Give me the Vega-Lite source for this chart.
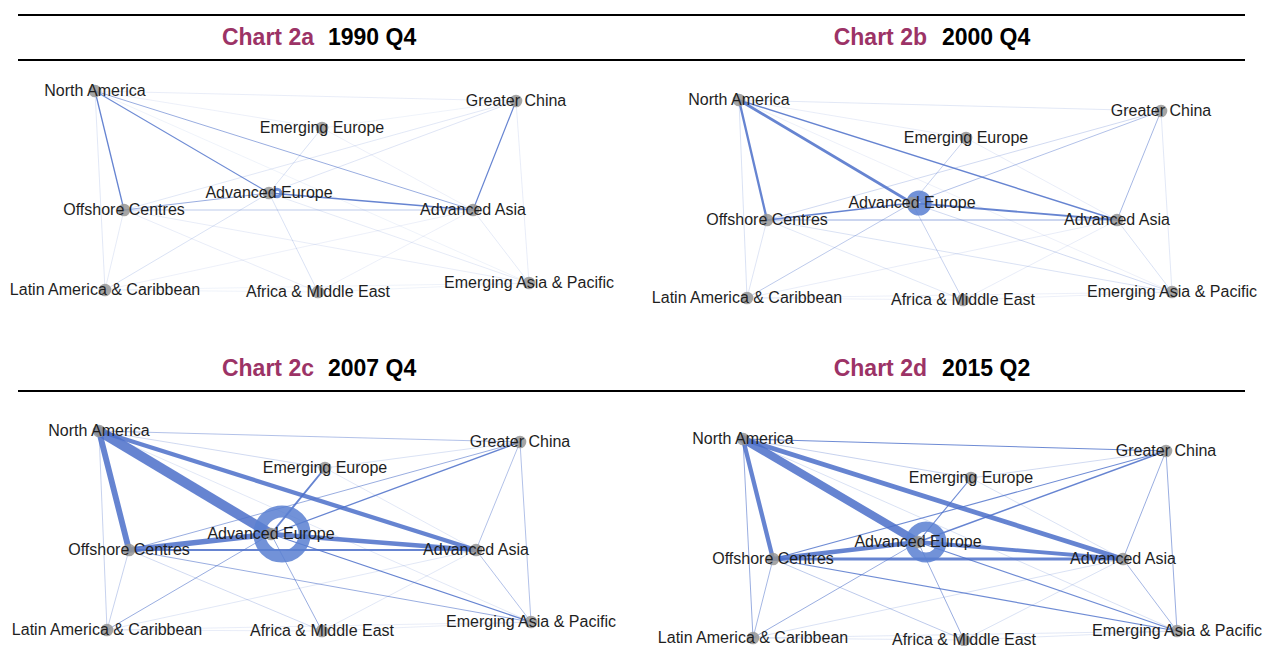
{
"$schema": "https://vega.github.io/schema/vega-lite/v6.json",
"padding": 0,
"spacing": 0,
"config": {"view": {"stroke": null}, "font": "Liberation Sans"},
"datasets": {
"nodes": [
{"name":"North America","xa":95,"ya":91,"xb":108,"yb":100,"xc":99,"yc":100,"xd":112,"yd":108},
{"name":"Greater China","xa":516,"ya":101,"xb":530,"yb":111,"xc":520,"yc":111,"xd":535,"yd":120},
{"name":"Emerging Europe","xa":322,"ya":128,"xb":335,"yb":138,"xc":325,"yc":137,"xd":340,"yd":147},
{"name":"Advanced Europe","xa":269,"ya":193,"xb":281,"yb":203,"xc":271,"yc":203,"xd":287,"yd":211},
{"name":"Offshore Centres","xa":124,"ya":210,"xb":136,"yb":220,"xc":129,"yc":219,"xd":142,"yd":228},
{"name":"Advanced Asia","xa":473,"ya":210,"xb":486,"yb":220,"xc":476,"yc":219,"xd":492,"yd":228},
{"name":"Latin America & Caribbean","xa":105,"ya":290,"xb":116,"yb":298,"xc":107,"yc":299,"xd":122,"yd":307},
{"name":"Africa & Middle East","xa":318,"ya":292,"xb":332,"yb":300,"xc":322,"yc":300,"xd":333,"yd":309},
{"name":"Emerging Asia & Pacific","xa":529,"ya":283,"xb":541,"yb":292,"xc":531,"yc":291,"xd":546,"yd":300}
],
"edges": [
{"panel":"a","source":"North America","target":"Offshore Centres","w":1.6},
{"panel":"a","source":"North America","target":"Advanced Europe","w":1.4},
{"panel":"a","source":"North America","target":"Advanced Asia","w":1.0},
{"panel":"a","source":"Greater China","target":"Advanced Asia","w":1.5},
{"panel":"a","source":"Advanced Europe","target":"Advanced Asia","w":2.0},
{"panel":"a","source":"Offshore Centres","target":"Advanced Europe","w":1.0},
{"panel":"a","source":"Offshore Centres","target":"Advanced Asia","w":0.7},
{"panel":"a","source":"Advanced Europe","target":"Emerging Europe","w":0.4},
{"panel":"a","source":"Advanced Europe","target":"Africa & Middle East","w":0.4},
{"panel":"a","source":"Advanced Europe","target":"Latin America & Caribbean","w":0.4},
{"panel":"a","source":"Advanced Europe","target":"Greater China","w":0.35},
{"panel":"a","source":"Offshore Centres","target":"Greater China","w":0.3},
{"panel":"a","source":"North America","target":"Latin America & Caribbean","w":0.3},
{"panel":"a","source":"Offshore Centres","target":"Latin America & Caribbean","w":0.25},
{"panel":"a","source":"North America","target":"Greater China","w":0.2},
{"panel":"a","source":"Advanced Asia","target":"Emerging Asia & Pacific","w":0.25},
{"panel":"a","source":"Offshore Centres","target":"Emerging Asia & Pacific","w":0.2},
{"panel":"a","source":"Advanced Europe","target":"Emerging Asia & Pacific","w":0.25},
{"panel":"a","source":"Greater China","target":"Emerging Asia & Pacific","w":0.2},
{"panel":"a","source":"Latin America & Caribbean","target":"Advanced Asia","w":0.15},
{"panel":"a","source":"Offshore Centres","target":"Africa & Middle East","w":0.2},
{"panel":"a","source":"Africa & Middle East","target":"Advanced Asia","w":0.15},
{"panel":"a","source":"North America","target":"Emerging Europe","w":0.15},
{"panel":"a","source":"Emerging Europe","target":"Greater China","w":0.1},
{"panel":"a","source":"Latin America & Caribbean","target":"Africa & Middle East","w":0.1},
{"panel":"a","source":"Africa & Middle East","target":"Emerging Asia & Pacific","w":0.1},
{"panel":"a","source":"Latin America & Caribbean","target":"Emerging Asia & Pacific","w":0.1},
{"panel":"a","source":"North America","target":"Emerging Asia & Pacific","w":0.1},
{"panel":"a","source":"Emerging Europe","target":"Advanced Asia","w":0.15},
{"panel":"a","source":"Advanced Europe","target":"Advanced Europe","w":0.3},
{"panel":"b","source":"Advanced Europe","target":"North America","w":3.0},
{"panel":"b","source":"Offshore Centres","target":"North America","w":2.6},
{"panel":"b","source":"Advanced Asia","target":"North America","w":1.8},
{"panel":"b","source":"Advanced Europe","target":"Advanced Asia","w":2.2},
{"panel":"b","source":"Offshore Centres","target":"Advanced Europe","w":1.6},
{"panel":"b","source":"Offshore Centres","target":"Advanced Asia","w":1.0},
{"panel":"b","source":"Greater China","target":"Advanced Asia","w":0.9},
{"panel":"b","source":"Advanced Europe","target":"Greater China","w":0.8},
{"panel":"b","source":"Offshore Centres","target":"Greater China","w":0.5},
{"panel":"b","source":"Advanced Europe","target":"Latin America & Caribbean","w":0.7},
{"panel":"b","source":"Advanced Europe","target":"Emerging Europe","w":0.6},
{"panel":"b","source":"Advanced Europe","target":"Africa & Middle East","w":0.6},
{"panel":"b","source":"Advanced Europe","target":"Emerging Asia & Pacific","w":0.5},
{"panel":"b","source":"Advanced Asia","target":"Emerging Asia & Pacific","w":0.4},
{"panel":"b","source":"North America","target":"Latin America & Caribbean","w":0.4},
{"panel":"b","source":"Offshore Centres","target":"Latin America & Caribbean","w":0.35},
{"panel":"b","source":"North America","target":"Greater China","w":0.3},
{"panel":"b","source":"Offshore Centres","target":"Emerging Asia & Pacific","w":0.4},
{"panel":"b","source":"Greater China","target":"Emerging Asia & Pacific","w":0.3},
{"panel":"b","source":"Offshore Centres","target":"Africa & Middle East","w":0.3},
{"panel":"b","source":"Africa & Middle East","target":"Advanced Asia","w":0.2},
{"panel":"b","source":"Latin America & Caribbean","target":"Advanced Asia","w":0.2},
{"panel":"b","source":"North America","target":"Emerging Europe","w":0.2},
{"panel":"b","source":"Emerging Europe","target":"Advanced Asia","w":0.2},
{"panel":"b","source":"Latin America & Caribbean","target":"Africa & Middle East","w":0.15},
{"panel":"b","source":"Africa & Middle East","target":"Emerging Asia & Pacific","w":0.15},
{"panel":"b","source":"Latin America & Caribbean","target":"Emerging Asia & Pacific","w":0.15},
{"panel":"b","source":"North America","target":"Emerging Asia & Pacific","w":0.15},
{"panel":"b","source":"Advanced Europe","target":"Advanced Europe","w":1.5},
{"panel":"c","source":"Advanced Europe","target":"North America","w":10},
{"panel":"c","source":"Offshore Centres","target":"North America","w":6},
{"panel":"c","source":"Advanced Asia","target":"North America","w":4.5},
{"panel":"c","source":"Offshore Centres","target":"Advanced Europe","w":5.5},
{"panel":"c","source":"Advanced Europe","target":"Advanced Asia","w":4.5},
{"panel":"c","source":"Offshore Centres","target":"Advanced Asia","w":2.2},
{"panel":"c","source":"Emerging Europe","target":"Advanced Europe","w":2.2},
{"panel":"c","source":"Advanced Europe","target":"Greater China","w":1.6},
{"panel":"c","source":"Offshore Centres","target":"Greater China","w":1.0},
{"panel":"c","source":"Advanced Europe","target":"Emerging Asia & Pacific","w":1.6},
{"panel":"c","source":"Offshore Centres","target":"Emerging Asia & Pacific","w":1.0},
{"panel":"c","source":"Advanced Asia","target":"Emerging Asia & Pacific","w":0.8},
{"panel":"c","source":"Greater China","target":"Advanced Asia","w":0.8},
{"panel":"c","source":"Greater China","target":"Emerging Asia & Pacific","w":0.8},
{"panel":"c","source":"North America","target":"Greater China","w":0.8},
{"panel":"c","source":"Advanced Europe","target":"Africa & Middle East","w":1.0},
{"panel":"c","source":"Advanced Europe","target":"Latin America & Caribbean","w":1.0},
{"panel":"c","source":"North America","target":"Latin America & Caribbean","w":0.6},
{"panel":"c","source":"Offshore Centres","target":"Latin America & Caribbean","w":0.6},
{"panel":"c","source":"Offshore Centres","target":"Africa & Middle East","w":0.5},
{"panel":"c","source":"North America","target":"Emerging Europe","w":0.5},
{"panel":"c","source":"Emerging Europe","target":"Greater China","w":0.4},
{"panel":"c","source":"Africa & Middle East","target":"Advanced Asia","w":0.3},
{"panel":"c","source":"Latin America & Caribbean","target":"Advanced Asia","w":0.3},
{"panel":"c","source":"North America","target":"Emerging Asia & Pacific","w":0.3},
{"panel":"c","source":"Latin America & Caribbean","target":"Africa & Middle East","w":0.2},
{"panel":"c","source":"Africa & Middle East","target":"Emerging Asia & Pacific","w":0.2},
{"panel":"c","source":"Latin America & Caribbean","target":"Emerging Asia & Pacific","w":0.2},
{"panel":"c","source":"Emerging Europe","target":"Advanced Asia","w":0.3},
{"panel":"c","source":"Advanced Europe","target":"Advanced Europe","w":10},
{"panel":"d","source":"Advanced Europe","target":"North America","w":8},
{"panel":"d","source":"Advanced Asia","target":"North America","w":5},
{"panel":"d","source":"Offshore Centres","target":"North America","w":4.5},
{"panel":"d","source":"Offshore Centres","target":"Advanced Europe","w":4.5},
{"panel":"d","source":"Advanced Europe","target":"Advanced Asia","w":4},
{"panel":"d","source":"Offshore Centres","target":"Advanced Asia","w":3.2},
{"panel":"d","source":"Advanced Europe","target":"Greater China","w":1.8},
{"panel":"d","source":"Offshore Centres","target":"Greater China","w":1.4},
{"panel":"d","source":"North America","target":"Greater China","w":1.4},
{"panel":"d","source":"Greater China","target":"Advanced Asia","w":1.0},
{"panel":"d","source":"Greater China","target":"Emerging Asia & Pacific","w":1.0},
{"panel":"d","source":"Offshore Centres","target":"Emerging Asia & Pacific","w":1.4},
{"panel":"d","source":"Advanced Europe","target":"Emerging Asia & Pacific","w":1.4},
{"panel":"d","source":"Advanced Asia","target":"Emerging Asia & Pacific","w":0.9},
{"panel":"d","source":"Advanced Europe","target":"Africa & Middle East","w":1.0},
{"panel":"d","source":"Advanced Europe","target":"Latin America & Caribbean","w":1.0},
{"panel":"d","source":"Emerging Europe","target":"Advanced Europe","w":1.4},
{"panel":"d","source":"Offshore Centres","target":"Latin America & Caribbean","w":0.9},
{"panel":"d","source":"North America","target":"Latin America & Caribbean","w":1.0},
{"panel":"d","source":"Offshore Centres","target":"Africa & Middle East","w":0.7},
{"panel":"d","source":"North America","target":"Emerging Europe","w":0.6},
{"panel":"d","source":"Emerging Europe","target":"Greater China","w":0.5},
{"panel":"d","source":"Africa & Middle East","target":"Advanced Asia","w":0.4},
{"panel":"d","source":"Latin America & Caribbean","target":"Advanced Asia","w":0.4},
{"panel":"d","source":"North America","target":"Emerging Asia & Pacific","w":0.4},
{"panel":"d","source":"Latin America & Caribbean","target":"Africa & Middle East","w":0.3},
{"panel":"d","source":"Africa & Middle East","target":"Emerging Asia & Pacific","w":0.3},
{"panel":"d","source":"Latin America & Caribbean","target":"Emerging Asia & Pacific","w":0.3},
{"panel":"d","source":"Emerging Europe","target":"Advanced Asia","w":0.4},
{"panel":"d","source":"Advanced Europe","target":"Advanced Europe","w":6}
]
},
"vconcat": [
{"hconcat": [
{
"width": 631, "height": 331,
"resolve": {"scale": {"strokeWidth": "independent", "size": "independent", "opacity": "independent"}},
"layer": [
{"data": {"values": [{}]}, "mark": {"type": "rule", "color": "#000000", "strokeWidth": 2},
 "encoding": {"x": {"datum": 18, "type": "quantitative", "scale": {"domain": [0, 631], "nice": false, "zero": false}, "axis": null}, "x2": {"datum": 631},
  "y": {"datum": 15, "type": "quantitative", "scale": {"domain": [0, 331], "nice": false, "zero": false, "reverse": true}, "axis": null}}},
{"data": {"values": [{}]}, "mark": {"type": "rule", "color": "#000000", "strokeWidth": 2},
 "encoding": {"x": {"datum": 18, "type": "quantitative", "scale": {"domain": [0, 631], "nice": false, "zero": false}, "axis": null}, "x2": {"datum": 631},
  "y": {"datum": 60, "type": "quantitative", "scale": {"domain": [0, 331], "nice": false, "zero": false, "reverse": true}, "axis": null}}},
{"data": {"name": "edges"},
 "transform": [
  {"filter": "datum.panel === 'a' && datum.source !== datum.target"},
  {"lookup": "source", "from": {"data": {"name": "nodes"}, "key": "name", "fields": ["xa", "ya"]}, "as": ["sx", "sy"]},
  {"lookup": "target", "from": {"data": {"name": "nodes"}, "key": "name", "fields": ["xa", "ya"]}, "as": ["tx", "ty"]}
 ],
 "mark": {"type": "rule", "color": "#4b6fc9", "strokeCap": "round"},
 "encoding": {
  "x": {"field": "sx", "type": "quantitative", "scale": {"domain": [0, 631], "nice": false, "zero": false}, "axis": null},
  "y": {"field": "sy", "type": "quantitative", "scale": {"domain": [0, 331], "nice": false, "zero": false, "reverse": true}, "axis": null},
  "x2": {"field": "tx"}, "y2": {"field": "ty"},
  "strokeWidth": {"field": "w", "type": "quantitative", "scale": {"domain": [0, 1.5, 10], "range": [0.4, 1.2, 10]}, "legend": null},
  "opacity": {"field": "w", "type": "quantitative", "scale": {"domain": [0, 1.5], "range": [0.15, 0.85], "clamp": true}, "legend": null},
  "order": {"field": "w", "type": "quantitative"}
 }},
{"data": {"name": "edges"},
 "transform": [
  {"filter": "datum.panel === 'a' && datum.source === datum.target"},
  {"lookup": "source", "from": {"data": {"name": "nodes"}, "key": "name", "fields": ["xa", "ya"]}, "as": ["sx", "sy"]}
 ],
 "mark": {"type": "point", "filled": false, "color": "#5a80d2", "opacity": 0.85, "xOffset": 8},
 "encoding": {
  "x": {"field": "sx", "type": "quantitative", "scale": {"domain": [0, 631], "nice": false, "zero": false}, "axis": null},
  "y": {"field": "sy", "type": "quantitative", "scale": {"domain": [0, 331], "nice": false, "zero": false, "reverse": true}, "axis": null},
  "size": {"field": "w", "type": "quantitative", "scale": {"domain": [0.3, 1.5, 6, 10], "range": [60, 200, 962, 2043]}, "legend": null},
  "strokeWidth": {"field": "w", "type": "quantitative", "scale": {"domain": [0.3, 1.5, 6, 10], "range": [3, 11, 10, 12]}, "legend": null}
 }},
{"data": {"name": "nodes"},
 "mark": {"type": "point", "filled": true, "color": "#959595", "opacity": 0.85, "size": 160},
 "encoding": {
  "x": {"field": "xa", "type": "quantitative", "scale": {"domain": [0, 631], "nice": false, "zero": false}, "axis": null},
  "y": {"field": "ya", "type": "quantitative", "scale": {"domain": [0, 331], "nice": false, "zero": false, "reverse": true}, "axis": null}
 }},
{"data": {"name": "nodes"},
 "mark": {"type": "text", "font": "Liberation Sans", "fontSize": 16, "color": "#1e1e1e", "align": "center", "baseline": "middle"},
 "encoding": {
  "x": {"field": "xa", "type": "quantitative", "scale": {"domain": [0, 631], "nice": false, "zero": false}, "axis": null},
  "y": {"field": "ya", "type": "quantitative", "scale": {"domain": [0, 331], "nice": false, "zero": false, "reverse": true}, "axis": null},
  "text": {"field": "name"}
 }},
{"data": {"values": [{}]}, "mark": {"type": "text", "font": "Liberation Sans", "fontSize": 23, "fontWeight": "bold", "color": "#9c3366", "align": "right", "baseline": "middle"},
 "encoding": {"x": {"datum": 314, "type": "quantitative", "scale": {"domain": [0, 631], "nice": false, "zero": false}, "axis": null},
  "y": {"datum": 38, "type": "quantitative", "scale": {"domain": [0, 331], "nice": false, "zero": false, "reverse": true}, "axis": null},
  "text": {"value": "Chart 2a"}}},
{"data": {"values": [{}]}, "mark": {"type": "text", "font": "Liberation Sans", "fontSize": 23, "fontWeight": "bold", "color": "#000000", "align": "left", "baseline": "middle"},
 "encoding": {"x": {"datum": 328, "type": "quantitative", "scale": {"domain": [0, 631], "nice": false, "zero": false}, "axis": null},
  "y": {"datum": 38, "type": "quantitative", "scale": {"domain": [0, 331], "nice": false, "zero": false, "reverse": true}, "axis": null},
  "text": {"value": "1990 Q4"}}}
]
},
{
"width": 631, "height": 331,
"resolve": {"scale": {"strokeWidth": "independent", "size": "independent", "opacity": "independent"}},
"layer": [
{"data": {"values": [{}]}, "mark": {"type": "rule", "color": "#000000", "strokeWidth": 2},
 "encoding": {"x": {"datum": 0, "type": "quantitative", "scale": {"domain": [0, 631], "nice": false, "zero": false}, "axis": null}, "x2": {"datum": 614},
  "y": {"datum": 15, "type": "quantitative", "scale": {"domain": [0, 331], "nice": false, "zero": false, "reverse": true}, "axis": null}}},
{"data": {"values": [{}]}, "mark": {"type": "rule", "color": "#000000", "strokeWidth": 2},
 "encoding": {"x": {"datum": 0, "type": "quantitative", "scale": {"domain": [0, 631], "nice": false, "zero": false}, "axis": null}, "x2": {"datum": 614},
  "y": {"datum": 60, "type": "quantitative", "scale": {"domain": [0, 331], "nice": false, "zero": false, "reverse": true}, "axis": null}}},
{"data": {"name": "edges"},
 "transform": [
  {"filter": "datum.panel === 'b' && datum.source !== datum.target"},
  {"lookup": "source", "from": {"data": {"name": "nodes"}, "key": "name", "fields": ["xb", "yb"]}, "as": ["sx", "sy"]},
  {"lookup": "target", "from": {"data": {"name": "nodes"}, "key": "name", "fields": ["xb", "yb"]}, "as": ["tx", "ty"]}
 ],
 "mark": {"type": "rule", "color": "#4b6fc9", "strokeCap": "round"},
 "encoding": {
  "x": {"field": "sx", "type": "quantitative", "scale": {"domain": [0, 631], "nice": false, "zero": false}, "axis": null},
  "y": {"field": "sy", "type": "quantitative", "scale": {"domain": [0, 331], "nice": false, "zero": false, "reverse": true}, "axis": null},
  "x2": {"field": "tx"}, "y2": {"field": "ty"},
  "strokeWidth": {"field": "w", "type": "quantitative", "scale": {"domain": [0, 1.5, 10], "range": [0.4, 1.2, 10]}, "legend": null},
  "opacity": {"field": "w", "type": "quantitative", "scale": {"domain": [0, 1.5], "range": [0.15, 0.85], "clamp": true}, "legend": null},
  "order": {"field": "w", "type": "quantitative"}
 }},
{"data": {"name": "edges"},
 "transform": [
  {"filter": "datum.panel === 'b' && datum.source === datum.target"},
  {"lookup": "source", "from": {"data": {"name": "nodes"}, "key": "name", "fields": ["xb", "yb"]}, "as": ["sx", "sy"]}
 ],
 "mark": {"type": "point", "filled": false, "color": "#5a80d2", "opacity": 0.85, "xOffset": 7},
 "encoding": {
  "x": {"field": "sx", "type": "quantitative", "scale": {"domain": [0, 631], "nice": false, "zero": false}, "axis": null},
  "y": {"field": "sy", "type": "quantitative", "scale": {"domain": [0, 331], "nice": false, "zero": false, "reverse": true}, "axis": null},
  "size": {"field": "w", "type": "quantitative", "scale": {"domain": [0.3, 1.5, 6, 10], "range": [60, 200, 962, 2043]}, "legend": null},
  "strokeWidth": {"field": "w", "type": "quantitative", "scale": {"domain": [0.3, 1.5, 6, 10], "range": [3, 11, 10, 12]}, "legend": null}
 }},
{"data": {"name": "nodes"},
 "mark": {"type": "point", "filled": true, "color": "#959595", "opacity": 0.85, "size": 160},
 "encoding": {
  "x": {"field": "xb", "type": "quantitative", "scale": {"domain": [0, 631], "nice": false, "zero": false}, "axis": null},
  "y": {"field": "yb", "type": "quantitative", "scale": {"domain": [0, 331], "nice": false, "zero": false, "reverse": true}, "axis": null}
 }},
{"data": {"name": "nodes"},
 "mark": {"type": "text", "font": "Liberation Sans", "fontSize": 16, "color": "#1e1e1e", "align": "center", "baseline": "middle"},
 "encoding": {
  "x": {"field": "xb", "type": "quantitative", "scale": {"domain": [0, 631], "nice": false, "zero": false}, "axis": null},
  "y": {"field": "yb", "type": "quantitative", "scale": {"domain": [0, 331], "nice": false, "zero": false, "reverse": true}, "axis": null},
  "text": {"field": "name"}
 }},
{"data": {"values": [{}]}, "mark": {"type": "text", "font": "Liberation Sans", "fontSize": 23, "fontWeight": "bold", "color": "#9c3366", "align": "right", "baseline": "middle"},
 "encoding": {"x": {"datum": 296, "type": "quantitative", "scale": {"domain": [0, 631], "nice": false, "zero": false}, "axis": null},
  "y": {"datum": 38, "type": "quantitative", "scale": {"domain": [0, 331], "nice": false, "zero": false, "reverse": true}, "axis": null},
  "text": {"value": "Chart 2b"}}},
{"data": {"values": [{}]}, "mark": {"type": "text", "font": "Liberation Sans", "fontSize": 23, "fontWeight": "bold", "color": "#000000", "align": "left", "baseline": "middle"},
 "encoding": {"x": {"datum": 311, "type": "quantitative", "scale": {"domain": [0, 631], "nice": false, "zero": false}, "axis": null},
  "y": {"datum": 38, "type": "quantitative", "scale": {"domain": [0, 331], "nice": false, "zero": false, "reverse": true}, "axis": null},
  "text": {"value": "2000 Q4"}}}
]
}
], "spacing": 0, "bounds": "flush"},
{"hconcat": [
{
"width": 631, "height": 315,
"resolve": {"scale": {"strokeWidth": "independent", "size": "independent", "opacity": "independent"}},
"layer": [
{"data": {"values": [{}]}, "mark": {"type": "rule", "color": "#000000", "strokeWidth": 2},
 "encoding": {"x": {"datum": 18, "type": "quantitative", "scale": {"domain": [0, 631], "nice": false, "zero": false}, "axis": null}, "x2": {"datum": 631},
  "y": {"datum": 60, "type": "quantitative", "scale": {"domain": [0, 315], "nice": false, "zero": false, "reverse": true}, "axis": null}}},
{"data": {"name": "edges"},
 "transform": [
  {"filter": "datum.panel === 'c' && datum.source !== datum.target"},
  {"lookup": "source", "from": {"data": {"name": "nodes"}, "key": "name", "fields": ["xc", "yc"]}, "as": ["sx", "sy"]},
  {"lookup": "target", "from": {"data": {"name": "nodes"}, "key": "name", "fields": ["xc", "yc"]}, "as": ["tx", "ty"]}
 ],
 "mark": {"type": "rule", "color": "#4b6fc9", "strokeCap": "round"},
 "encoding": {
  "x": {"field": "sx", "type": "quantitative", "scale": {"domain": [0, 631], "nice": false, "zero": false}, "axis": null},
  "y": {"field": "sy", "type": "quantitative", "scale": {"domain": [0, 315], "nice": false, "zero": false, "reverse": true}, "axis": null},
  "x2": {"field": "tx"}, "y2": {"field": "ty"},
  "strokeWidth": {"field": "w", "type": "quantitative", "scale": {"domain": [0, 1.5, 10], "range": [0.4, 1.2, 10]}, "legend": null},
  "opacity": {"field": "w", "type": "quantitative", "scale": {"domain": [0, 1.5], "range": [0.15, 0.85], "clamp": true}, "legend": null},
  "order": {"field": "w", "type": "quantitative"}
 }},
{"data": {"name": "edges"},
 "transform": [
  {"filter": "datum.panel === 'c' && datum.source === datum.target"},
  {"lookup": "source", "from": {"data": {"name": "nodes"}, "key": "name", "fields": ["xc", "yc"]}, "as": ["sx", "sy"]}
 ],
 "mark": {"type": "point", "filled": false, "color": "#5a80d2", "opacity": 0.85, "xOffset": 11},
 "encoding": {
  "x": {"field": "sx", "type": "quantitative", "scale": {"domain": [0, 631], "nice": false, "zero": false}, "axis": null},
  "y": {"field": "sy", "type": "quantitative", "scale": {"domain": [0, 315], "nice": false, "zero": false, "reverse": true}, "axis": null},
  "size": {"field": "w", "type": "quantitative", "scale": {"domain": [0.3, 1.5, 6, 10], "range": [60, 200, 962, 2043]}, "legend": null},
  "strokeWidth": {"field": "w", "type": "quantitative", "scale": {"domain": [0.3, 1.5, 6, 10], "range": [3, 11, 10, 12]}, "legend": null}
 }},
{"data": {"name": "nodes"},
 "mark": {"type": "point", "filled": true, "color": "#959595", "opacity": 0.85, "size": 160},
 "encoding": {
  "x": {"field": "xc", "type": "quantitative", "scale": {"domain": [0, 631], "nice": false, "zero": false}, "axis": null},
  "y": {"field": "yc", "type": "quantitative", "scale": {"domain": [0, 315], "nice": false, "zero": false, "reverse": true}, "axis": null}
 }},
{"data": {"name": "nodes"},
 "mark": {"type": "text", "font": "Liberation Sans", "fontSize": 16, "color": "#1e1e1e", "align": "center", "baseline": "middle"},
 "encoding": {
  "x": {"field": "xc", "type": "quantitative", "scale": {"domain": [0, 631], "nice": false, "zero": false}, "axis": null},
  "y": {"field": "yc", "type": "quantitative", "scale": {"domain": [0, 315], "nice": false, "zero": false, "reverse": true}, "axis": null},
  "text": {"field": "name"}
 }},
{"data": {"values": [{}]}, "mark": {"type": "text", "font": "Liberation Sans", "fontSize": 23, "fontWeight": "bold", "color": "#9c3366", "align": "right", "baseline": "middle"},
 "encoding": {"x": {"datum": 314, "type": "quantitative", "scale": {"domain": [0, 631], "nice": false, "zero": false}, "axis": null},
  "y": {"datum": 38, "type": "quantitative", "scale": {"domain": [0, 315], "nice": false, "zero": false, "reverse": true}, "axis": null},
  "text": {"value": "Chart 2c"}}},
{"data": {"values": [{}]}, "mark": {"type": "text", "font": "Liberation Sans", "fontSize": 23, "fontWeight": "bold", "color": "#000000", "align": "left", "baseline": "middle"},
 "encoding": {"x": {"datum": 328, "type": "quantitative", "scale": {"domain": [0, 631], "nice": false, "zero": false}, "axis": null},
  "y": {"datum": 38, "type": "quantitative", "scale": {"domain": [0, 315], "nice": false, "zero": false, "reverse": true}, "axis": null},
  "text": {"value": "2007 Q4"}}}
]
},
{
"width": 631, "height": 315,
"resolve": {"scale": {"strokeWidth": "independent", "size": "independent", "opacity": "independent"}},
"layer": [
{"data": {"values": [{}]}, "mark": {"type": "rule", "color": "#000000", "strokeWidth": 2},
 "encoding": {"x": {"datum": 0, "type": "quantitative", "scale": {"domain": [0, 631], "nice": false, "zero": false}, "axis": null}, "x2": {"datum": 614},
  "y": {"datum": 60, "type": "quantitative", "scale": {"domain": [0, 315], "nice": false, "zero": false, "reverse": true}, "axis": null}}},
{"data": {"name": "edges"},
 "transform": [
  {"filter": "datum.panel === 'd' && datum.source !== datum.target"},
  {"lookup": "source", "from": {"data": {"name": "nodes"}, "key": "name", "fields": ["xd", "yd"]}, "as": ["sx", "sy"]},
  {"lookup": "target", "from": {"data": {"name": "nodes"}, "key": "name", "fields": ["xd", "yd"]}, "as": ["tx", "ty"]}
 ],
 "mark": {"type": "rule", "color": "#4b6fc9", "strokeCap": "round"},
 "encoding": {
  "x": {"field": "sx", "type": "quantitative", "scale": {"domain": [0, 631], "nice": false, "zero": false}, "axis": null},
  "y": {"field": "sy", "type": "quantitative", "scale": {"domain": [0, 315], "nice": false, "zero": false, "reverse": true}, "axis": null},
  "x2": {"field": "tx"}, "y2": {"field": "ty"},
  "strokeWidth": {"field": "w", "type": "quantitative", "scale": {"domain": [0, 1.5, 10], "range": [0.4, 1.2, 10]}, "legend": null},
  "opacity": {"field": "w", "type": "quantitative", "scale": {"domain": [0, 1.5], "range": [0.15, 0.85], "clamp": true}, "legend": null},
  "order": {"field": "w", "type": "quantitative"}
 }},
{"data": {"name": "edges"},
 "transform": [
  {"filter": "datum.panel === 'd' && datum.source === datum.target"},
  {"lookup": "source", "from": {"data": {"name": "nodes"}, "key": "name", "fields": ["xd", "yd"]}, "as": ["sx", "sy"]}
 ],
 "mark": {"type": "point", "filled": false, "color": "#5a80d2", "opacity": 0.85, "xOffset": 8},
 "encoding": {
  "x": {"field": "sx", "type": "quantitative", "scale": {"domain": [0, 631], "nice": false, "zero": false}, "axis": null},
  "y": {"field": "sy", "type": "quantitative", "scale": {"domain": [0, 315], "nice": false, "zero": false, "reverse": true}, "axis": null},
  "size": {"field": "w", "type": "quantitative", "scale": {"domain": [0.3, 1.5, 6, 10], "range": [60, 200, 962, 2043]}, "legend": null},
  "strokeWidth": {"field": "w", "type": "quantitative", "scale": {"domain": [0.3, 1.5, 6, 10], "range": [3, 11, 10, 12]}, "legend": null}
 }},
{"data": {"name": "nodes"},
 "mark": {"type": "point", "filled": true, "color": "#959595", "opacity": 0.85, "size": 160},
 "encoding": {
  "x": {"field": "xd", "type": "quantitative", "scale": {"domain": [0, 631], "nice": false, "zero": false}, "axis": null},
  "y": {"field": "yd", "type": "quantitative", "scale": {"domain": [0, 315], "nice": false, "zero": false, "reverse": true}, "axis": null}
 }},
{"data": {"name": "nodes"},
 "mark": {"type": "text", "font": "Liberation Sans", "fontSize": 16, "color": "#1e1e1e", "align": "center", "baseline": "middle"},
 "encoding": {
  "x": {"field": "xd", "type": "quantitative", "scale": {"domain": [0, 631], "nice": false, "zero": false}, "axis": null},
  "y": {"field": "yd", "type": "quantitative", "scale": {"domain": [0, 315], "nice": false, "zero": false, "reverse": true}, "axis": null},
  "text": {"field": "name"}
 }},
{"data": {"values": [{}]}, "mark": {"type": "text", "font": "Liberation Sans", "fontSize": 23, "fontWeight": "bold", "color": "#9c3366", "align": "right", "baseline": "middle"},
 "encoding": {"x": {"datum": 296, "type": "quantitative", "scale": {"domain": [0, 631], "nice": false, "zero": false}, "axis": null},
  "y": {"datum": 38, "type": "quantitative", "scale": {"domain": [0, 315], "nice": false, "zero": false, "reverse": true}, "axis": null},
  "text": {"value": "Chart 2d"}}},
{"data": {"values": [{}]}, "mark": {"type": "text", "font": "Liberation Sans", "fontSize": 23, "fontWeight": "bold", "color": "#000000", "align": "left", "baseline": "middle"},
 "encoding": {"x": {"datum": 311, "type": "quantitative", "scale": {"domain": [0, 631], "nice": false, "zero": false}, "axis": null},
  "y": {"datum": 38, "type": "quantitative", "scale": {"domain": [0, 315], "nice": false, "zero": false, "reverse": true}, "axis": null},
  "text": {"value": "2015 Q2"}}}
]
}
], "spacing": 0, "bounds": "flush"}
]
}
